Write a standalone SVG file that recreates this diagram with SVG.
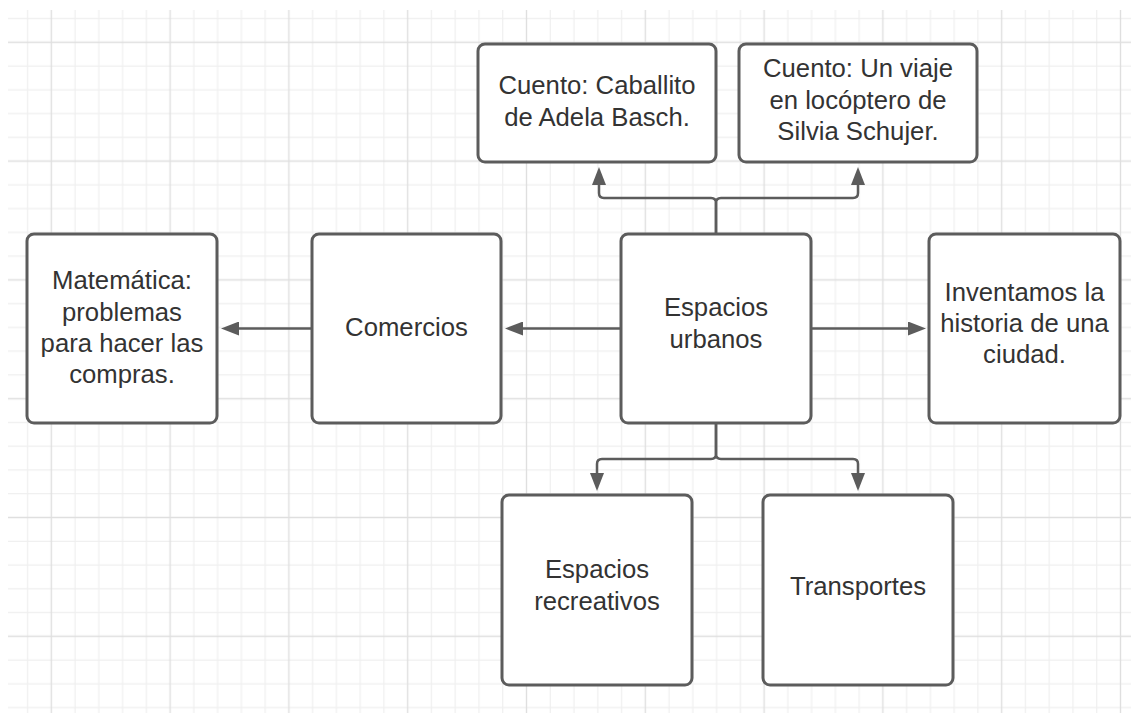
<svg xmlns="http://www.w3.org/2000/svg" width="1131" height="713" viewBox="0 0 1131 713">
  <style>
    .box { fill: #ffffff; stroke: #5c5c5c; stroke-width: 3; }
    .lbl { font-family: "Liberation Sans", Arial, sans-serif; font-size: 25.7px; fill: #333333; text-anchor: middle; }
    .conn { fill: none; stroke: #5c5c5c; stroke-width: 2.5; }
  </style>
  <defs>
    <pattern id="grid" patternUnits="userSpaceOnUse" x="-8.1" y="-17.1" width="118.8" height="118.8">
      <g stroke="#efefef" stroke-width="1.2">
        <line x1="11.88" y1="0" x2="11.88" y2="118.8"/>
        <line x1="35.64" y1="0" x2="35.64" y2="118.8"/>
        <line x1="83.16" y1="0" x2="83.16" y2="118.8"/>
        <line x1="106.92" y1="0" x2="106.92" y2="118.8"/>
        <line y1="11.88" x1="0" y2="11.88" x2="118.8"/>
        <line y1="35.64" x1="0" y2="35.64" x2="118.8"/>
        <line y1="83.16" x1="0" y2="83.16" x2="118.8"/>
        <line y1="106.92" x1="0" y2="106.92" x2="118.8"/>
      </g>
      <g stroke="#dfdfdf" stroke-width="1.4">
        <line x1="59.4" y1="0" x2="59.4" y2="118.8"/>
        <line y1="59.4" x1="0" y2="59.4" x2="118.8"/>
      </g>
    </pattern>
    <marker id="arrow" markerUnits="userSpaceOnUse" viewBox="0 0 18 14" refX="0" refY="7" markerWidth="18" markerHeight="14" orient="auto">
      <path d="M0,0 L18,7 L0,14 Z" fill="#5c5c5c"/>
    </marker>
  </defs>

  <rect x="0" y="0" width="1131" height="713" fill="#ffffff"/>
  <rect x="8" y="10" width="1123" height="703" fill="url(#grid)"/>

  <g id="connectors">
    <path class="conn" marker-end="url(#arrow)" d="M716,234 V203 Q716,198 711,198 H604 Q599,198 599,193 V185"/>
    <path class="conn" marker-end="url(#arrow)" d="M716,234 V203 Q716,198 721,198 H853 Q858,198 858,193 V185"/>
    <path class="conn" marker-end="url(#arrow)" d="M716,423 V454 Q716,459 711,459 H602 Q597,459 597,464 V473"/>
    <path class="conn" marker-end="url(#arrow)" d="M716,423 V454 Q716,459 721,459 H853 Q858,459 858,464 V473"/>
    <path class="conn" marker-end="url(#arrow)" d="M621,328.5 H523"/>
    <path class="conn" marker-end="url(#arrow)" d="M312,328.5 H239"/>
    <path class="conn" marker-end="url(#arrow)" d="M811,328.5 H908"/>
  </g>

  <g id="node-caballito">
    <rect class="box" x="478" y="44" width="238" height="118" rx="7"/>
    <text class="lbl" x="597" y="94.3">Cuento: Caballito</text>
    <text class="lbl" x="597" y="126">de Adela Basch.</text>
  </g>

  <g id="node-locoptero">
    <rect class="box" x="739" y="44" width="238" height="118" rx="7"/>
    <text class="lbl" x="858" y="77.3">Cuento: Un viaje</text>
    <text class="lbl" x="858" y="108.5">en locóptero de</text>
    <text class="lbl" x="858" y="140">Silvia Schujer.</text>
  </g>

  <g id="node-matematica">
    <rect class="box" x="27" y="234" width="190" height="189" rx="7"/>
    <text class="lbl" x="122" y="289.3">Matemática:</text>
    <text class="lbl" x="122" y="320.5">problemas</text>
    <text class="lbl" x="122" y="351.5">para hacer las</text>
    <text class="lbl" x="122" y="382.5">compras.</text>
  </g>

  <g id="node-comercios">
    <rect class="box" x="312" y="234" width="189" height="189" rx="7"/>
    <text class="lbl" x="406.5" y="336">Comercios</text>
  </g>

  <g id="node-espacios-urbanos">
    <rect class="box" x="621" y="234" width="190" height="189" rx="7"/>
    <text class="lbl" x="716" y="316">Espacios</text>
    <text class="lbl" x="716" y="347.7">urbanos</text>
  </g>

  <g id="node-inventamos">
    <rect class="box" x="929" y="234" width="191" height="189" rx="7"/>
    <text class="lbl" x="1024.5" y="301">Inventamos la</text>
    <text class="lbl" x="1024.5" y="331.7">historia de una</text>
    <text class="lbl" x="1024.5" y="362.7">ciudad.</text>
  </g>

  <g id="node-recreativos">
    <rect class="box" x="502" y="495" width="190" height="190" rx="7"/>
    <text class="lbl" x="597" y="578.3">Espacios</text>
    <text class="lbl" x="597" y="610">recreativos</text>
  </g>

  <g id="node-transportes">
    <rect class="box" x="763" y="495" width="190" height="190" rx="7"/>
    <text class="lbl" x="858" y="595">Transportes</text>
  </g>
</svg>
